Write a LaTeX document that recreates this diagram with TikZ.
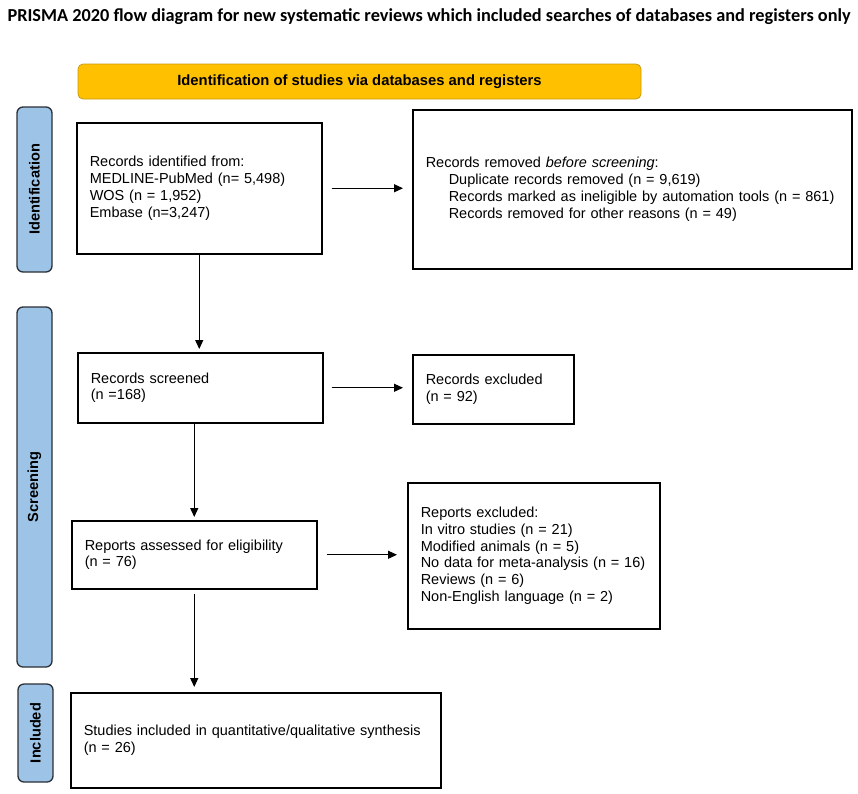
\documentclass[tikz,border=0pt]{standalone}
\usepackage{fontspec}
\setmainfont{Liberation Sans}
\newfontfamily\titlefont{Carlito}
\usepackage{tikz}
\usetikzlibrary{
arrows.meta,
positioning
}

\definecolor{headorange}{HTML}{FFC000}
\definecolor{headedge}{HTML}{C99A10}
\definecolor{phaseblue}{HTML}{9DC3E6}
\definecolor{phaseedge}{HTML}{2A2F36}

\begin{document}
\begin{tikzpicture}[
x=1pt,y=-1pt,
font=\fontsize{14.5}{16.7}\selectfont,
flowbox/.style={
draw,
line width=1.5pt,
anchor=north west,
inner xsep=13pt,
inner ysep=2pt,
align=left
},
phase/.style={
draw=phaseedge,
fill=phaseblue,
line width=1.3pt,
rounded corners=6pt,
rotate=90,
minimum height=35pt,
font=\fontsize{14.6}{16}\selectfont\bfseries
},
headbar/.style={
draw=headedge,
fill=headorange,
line width=0.8pt,
rounded corners=5pt,
minimum width=563pt,
minimum height=35pt,
font=\fontsize{14.8}{16}\selectfont\bfseries
},
flow/.style={draw,line width=1.2pt,-{Triangle[length=9pt,width=8pt]}}
]
\useasboundingbox (0,0) rectangle (858,793);

\node[anchor=west,font=\titlefont\bfseries\fontsize{18.3}{21}\selectfont] (title) at (4,17)
{PRISMA 2020 flow diagram for new systematic reviews which included searches of databases and registers only};

\node[headbar] (head) at (359.5,81.5) {Identification of studies via databases and registers};

% phases
\node[phase,minimum width=165pt] (idphase) at (34.5,189.5) {Identification};
\node[phase,minimum width=360pt] (scrphase) at (34.5,487) {Screening};
\node[phase,minimum width=98pt] (incphase) at (35.5,733) {Included};

% boxes
\node[flowbox,minimum width=245pt,minimum height=131pt,text width=219pt] (ident) at (76,122)
{Records identified from:\\MEDLINE-PubMed (n= 5,498)\\WOS (n = 1,952)\\Embase (n=3,247)};
\node[flowbox,minimum width=439pt,minimum height=159pt,text width=413pt] (removed) at (412,109)
{Records removed \emph{before screening}:\\
\hspace*{23pt}Duplicate records removed (n = 9,619)\\
\hspace*{23pt}Records marked as ineligible by automation tools (n = 861)\\
\hspace*{23pt}Records removed for other reasons (n = 49)};
\node[flowbox,minimum width=245pt,minimum height=70pt,text width=219pt] (screened) at (77,352)
{Records screened\\(n =168)};
\node[flowbox,minimum width=161pt,minimum height=69pt,text width=135pt] (excluded) at (412,354)
{Records excluded\\(n = 92)};
\node[flowbox,minimum width=245pt,minimum height=68pt,text width=219pt] (assessed) at (71,520)
{Reports assessed for eligibility\\(n = 76)};
\node[flowbox,minimum width=252pt,minimum height=146pt,text width=226pt] (repexcl) at (407,482)
{Reports excluded:\\In vitro studies (n = 21)\\Modified animals (n = 5)\\No data for meta-analysis (n = 16)\\Reviews (n = 6)\\Non-English language (n = 2)};
\node[flowbox,minimum width=370pt,minimum height=95pt,text width=344pt] (included) at (70,692)
{Studies included in quantitative/qualitative synthesis\\(n = 26)};

% arrows
\draw[flow,shorten <=9pt,shorten >=9pt] (ident.east) -- (ident.east -| removed.west);
\draw[flow,shorten >=3pt] (ident.south) -- (ident.south |- screened.north);
\draw[flow,shorten <=8pt,shorten >=9pt] (screened.east) -- (screened.east -| excluded.west);
\draw[flow,shorten >=3pt] (assessed.north |- screened.south) -- (assessed.north);
\draw[flow,shorten <=9pt,shorten >=10pt] (assessed.east) -- (assessed.east -| repexcl.west);
\draw[flow,shorten <=4pt,shorten >=5pt] (assessed.south) -- (assessed.south |- included.north);

\end{tikzpicture}
\end{document}
